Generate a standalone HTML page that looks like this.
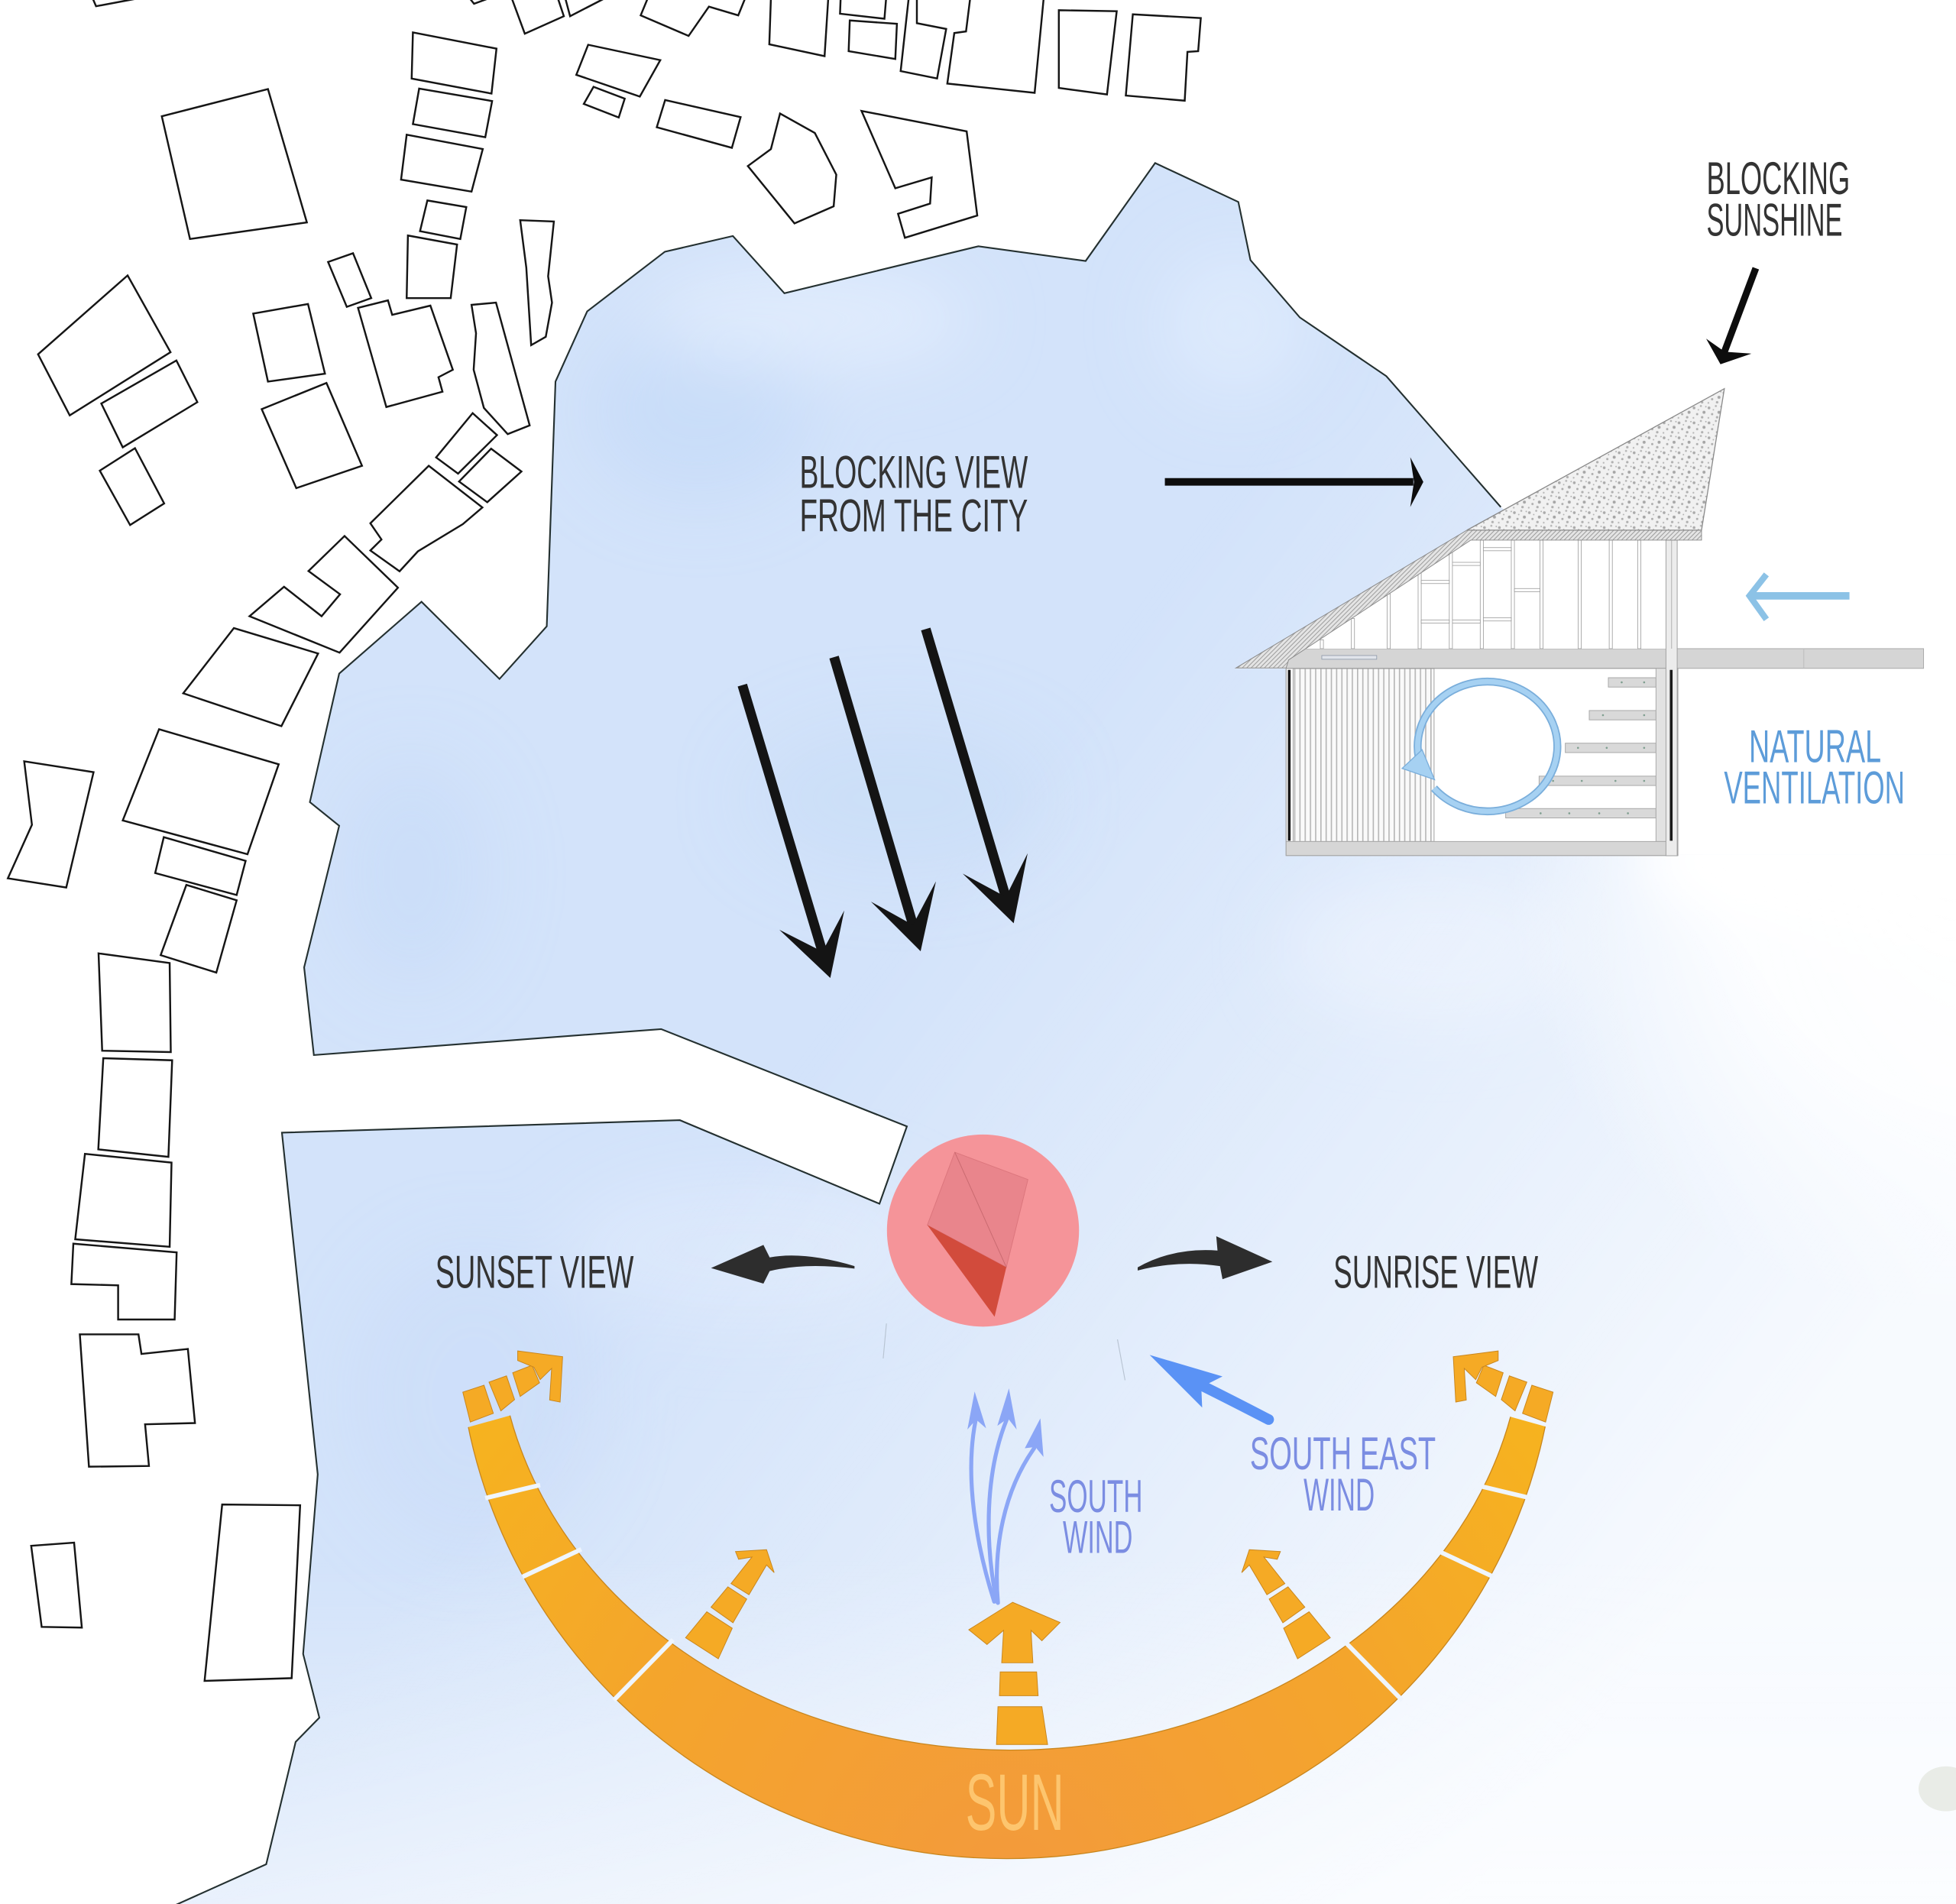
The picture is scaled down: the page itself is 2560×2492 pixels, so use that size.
<!DOCTYPE html>
<html><head><meta charset="utf-8"><style>
html,body{margin:0;padding:0;background:#fff;width:2560px;height:2492px;overflow:hidden}
svg{display:block}
.t{font-family:"Liberation Sans Narrow","Liberation Sans",sans-serif;fill:#333}
.b{fill:#fff;stroke:#151515;stroke-width:1.5;stroke-linejoin:miter}
.o{fill:#f5aa25;stroke:#c9861d;stroke-width:.6}
</style></head><body>
<svg xmlns="http://www.w3.org/2000/svg" width="2560" height="2492" viewBox="0 0 1568 1526.36" preserveAspectRatio="none">
<defs>
<clipPath id="waterClip"><path d="M134.4,1530 L213.4,1494.5 L237,1396.4 L256,1377 L243,1325.9 L254.7,1182 L226,908 L545,898 L705,965 L727,903 L530,825 L251.6,845.8 L243.8,775.5 L271.9,662 L248.4,643 L271.9,540 L337.9,482.4 L400.4,544.3 L438.3,502.1 L445.3,305.9 L470.7,249.6 L533,201.8 L587.5,189.2 L628.8,235.1 L784.3,197.4 L870.3,209.2 L926,130.7 L992.7,161.9 L1002.4,208.5 L1042,254.5 L1111.3,301.5 L1203.1,406.5 L1210,412 L990,536 L1031,536 L1031,685 L1568,685 L1568,1530 Z"/></clipPath>
<linearGradient id="fadeDiag" gradientUnits="userSpaceOnUse" x1="900" y1="500" x2="1568" y2="1000">
<stop offset="0" stop-color="#fff" stop-opacity="0"/><stop offset="1" stop-color="#fff" stop-opacity=".82"/></linearGradient>
<linearGradient id="fadeBottom" gradientUnits="userSpaceOnUse" x1="0" y1="1250" x2="0" y2="1526">
<stop offset="0" stop-color="#fff" stop-opacity="0"/><stop offset="1" stop-color="#fff" stop-opacity=".5"/></linearGradient>
<radialGradient id="fadeRight" gradientUnits="userSpaceOnUse" cx="1568" cy="690" r="360">
<stop offset="0" stop-color="#fff" stop-opacity="1"/><stop offset=".5" stop-color="#fff" stop-opacity=".85"/><stop offset="1" stop-color="#fff" stop-opacity="0"/></radialGradient>
<radialGradient id="sunGrad" gradientUnits="userSpaceOnUse" cx="808" cy="1510" r="650">
<stop offset="0" stop-color="#f39a3c"/><stop offset=".5" stop-color="#f4a52c"/><stop offset="1" stop-color="#f7b81a"/></radialGradient>
<filter id="blur" x="-50%" y="-50%" width="200%" height="200%"><feGaussianBlur stdDeviation="28"/></filter>
<filter id="blur2" x="-50%" y="-50%" width="200%" height="200%"><feGaussianBlur stdDeviation="22"/></filter>
<pattern id="speck" width="12" height="12" patternUnits="userSpaceOnUse">
<rect width="12" height="12" fill="#f1f1f1"/><circle cx="2" cy="3" r="1.1" fill="#aaa"/><circle cx="7.5" cy="1.5" r=".8" fill="#b4b4b4"/><circle cx="10" cy="6.5" r="1.2" fill="#a6a6a6"/><circle cx="4.5" cy="8" r=".9" fill="#adadad"/><circle cx="8.5" cy="10.5" r="1" fill="#b0b0b0"/><circle cx="1.5" cy="11" r=".7" fill="#b8b8b8"/><circle cx="11.5" cy="2" r=".6" fill="#b0b0b0"/><circle cx="5.5" cy="4.5" r=".6" fill="#b3b3b3"/></pattern>
<pattern id="hatch" width="2.5" height="2.5" patternUnits="userSpaceOnUse" patternTransform="rotate(45)">
<rect width="2.5" height="2.5" fill="#e4e4e4"/><rect width=".6" height="2.5" fill="#9a9a9a"/></pattern>
<pattern id="corr" width="4.2" height="10" patternUnits="userSpaceOnUse">
<rect width="4.2" height="10" fill="#fafafa"/><rect width="1" height="10" fill="#b6b6b6"/></pattern>
<mask id="bandMask" maskUnits="userSpaceOnUse" x="0" y="0" width="1568" height="1527">
<ellipse cx="807" cy="1060" rx="440" ry="430" fill="#fff"/>
<ellipse cx="810" cy="1060" rx="411" ry="343" fill="#000"/></mask>
<clipPath id="bandClip"><polygon points="440,1126 340,1154 300,1530 1320,1530 1276,1154 1176,1126"/></clipPath>
</defs>

<rect width="1568" height="1527" fill="#fff"/>

<!-- water -->
<g clip-path="url(#waterClip)">
<rect width="1568" height="1527" fill="#d3e3fa"/>
<g filter="url(#blur)">
<ellipse cx="560" cy="330" rx="90" ry="70" fill="#c3d8f8" opacity=".6"/>
<ellipse cx="330" cy="700" rx="60" ry="90" fill="#c6dbf8" opacity=".6"/>
<ellipse cx="720" cy="640" rx="120" ry="60" fill="#c6dbf8" opacity=".5"/>
<ellipse cx="650" cy="255" rx="130" ry="40" fill="#e6f0fd" opacity=".7"/>
<ellipse cx="990" cy="260" rx="60" ry="60" fill="#e3eefd" opacity=".6"/>
<ellipse cx="380" cy="1120" rx="100" ry="120" fill="#c9dcf9" opacity=".5"/>
<ellipse cx="600" cy="1000" rx="150" ry="60" fill="#e4eefd" opacity=".5"/>
<ellipse cx="1150" cy="760" rx="120" ry="60" fill="#e8f0fd" opacity=".6"/>
</g>
<rect width="1568" height="1527" fill="url(#fadeDiag)"/>
<rect width="1568" height="1527" fill="url(#fadeBottom)"/>
<rect width="1568" height="1527" fill="url(#fadeRight)"/>
<ellipse cx="1490" cy="690" rx="170" ry="55" fill="#fff" filter="url(#blur2)"/>
<ellipse cx="1400" cy="680" rx="60" ry="25" fill="#fff" filter="url(#blur2)" opacity=".8"/>
</g>

<!-- shoreline -->
<path d="M134.4,1530 L213.4,1494.5 L237,1396.4 L256,1377 L243,1325.9 L254.7,1182 L226,908 L545,898 L705,965 L727,903 L530,825 L251.6,845.8 L243.8,775.5 L271.9,662 L248.4,643 L271.9,540 L337.9,482.4 L400.4,544.3 L438.3,502.1 L445.3,305.9 L470.7,249.6 L533,201.8 L587.5,189.2 L628.8,235.1 L784.3,197.4 L870.3,209.2 L926,130.7 L992.7,161.9 L1002.4,208.5 L1042,254.5 L1111.3,301.5 L1203.1,406.5" fill="none" stroke="#243030" stroke-width="1.3" stroke-linejoin="miter"/>

<!-- buildings -->
<g>
<polygon class="b" points="74,-2 77,5 109,-1"/>
<polygon class="b" points="376,-2 380,3 391,-1"/>
<polygon class="b" points="410,-2 420.7,27 452,13 447,-2"/>
<polygon class="b" points="453,-2 457,13 486,-2"/>
<polygon class="b" points="519.5,-2 513.6,12.3 552,28.8 568.3,5.3 591.8,12.3 597.6,-2"/>
<polygon class="b" points="618,-2 616.7,35.5 661,45 664,-2"/>
<polygon class="b" points="673.9,-2 673.4,11 709,15 710.4,-2"/>
<polygon class="b" points="681.2,16.4 719,19.1 717.7,47.3 680.3,41"/>
<polygon class="b" points="722,57 726.3,17.8 728.5,-2 735,-2 735,18.6 758.5,23.2 751.2,62.9"/>
<polygon class="b" points="777.8,-2 836.7,-2 829.4,74.4 759.4,67 765,26.5 774.4,25.2"/>
<polygon class="b" points="848.8,8.2 895.2,9 887.4,75.7 848.8,70.5"/>
<polygon class="b" points="908.1,11.5 962.6,14.5 960.5,41 951.9,41.6 949.7,80.7 902.5,76.6"/>
<polygon class="b" points="462,60 471.5,35.9 529.3,48.2 512.9,77.4"/>
<polygon class="b" points="468,83.3 475.8,69.6 500.8,79.1 496,94.2"/>
<polygon class="b" points="526.5,102 533.2,80.2 593.7,93.9 586.7,118.5"/>
<polygon class="b" points="625.3,91 653.2,106.6 670.4,140 668.3,165.4 636.9,179.1 599.5,133.1 618,119.5"/>
<polygon class="b" points="690.6,88.9 774.9,105.3 783.4,172.8 725.4,190.6 719.9,171.4 745.6,163.2 746.9,142.2 717.7,150.9"/>
<polygon class="b" points="129.7,93.2 214.8,71.4 246,178.3 152.3,191.6"/>
<polygon class="b" points="331,26 398,39 394,75 330,63"/>
<polygon class="b" points="336,71 394.5,81 389,110 331,99.5"/>
<polygon class="b" points="326,108 387,119.5 378,153.6 321.5,144"/>
<polygon class="b" points="342.6,160.7 373.8,166 369,191.6 336.7,185.3"/>
<polygon class="b" points="327,188.8 366.4,196 361.3,239 326,239"/>
<polygon class="b" points="417,176.5 444,177.6 439.4,221.5 442.5,242.6 437.5,270 425.8,276.7 421.9,214.5"/>
<polygon class="b" points="263,210 283,203 297.6,239 278,246"/>
<polygon class="b" points="287,246.8 311,240.8 314.4,252.4 345,245 363,296.4 351.5,302.4 354.7,314 309.7,326.3"/>
<polygon class="b" points="203,251.4 246.9,243.7 260.5,299.6 214.8,305.9"/>
<polygon class="b" points="378,244.4 397.6,242.6 424.6,341 407,348 387.9,327 379.7,296.4 381.6,267.2"/>
<polygon class="b" points="30.5,284 102.3,220.8 136.7,282.3 55.9,333"/>
<polygon class="b" points="81.2,323.5 141.4,289 158.2,322.4 98.4,358.6"/>
<polygon class="b" points="80,377.3 108.2,359.3 131.6,403.6 104.3,420.9"/>
<polygon class="b" points="209.8,328 261.7,307 290.2,373.4 237.5,391.3"/>
<polygon class="b" points="349.6,366.7 378.9,331.2 398.4,348.8 367.2,379.7"/>
<polygon class="b" points="368,386 393.7,359.7 418,378 390.6,402.6"/>
<polygon class="b" points="296.9,419.5 343.7,373.4 386.7,406.8 371,420.2 335,442 320.3,458 296.9,441.3 305.8,432.5"/>
<polygon class="b" points="200,494 227.7,470.4 257.8,494 272.6,476.4 247.3,457.8 276.2,429.7 319,471.1 272.2,523.2"/>
<polygon class="b" points="187.5,503.5 255,523.9 225.6,582.1 146.9,555.8"/>
<polygon class="b" points="127.5,584.6 223.4,612.7 198.4,684.8 98.4,657.7"/>
<polygon class="b" points="131.3,671.1 196.9,690.1 189.7,717.5 124.4,699.9"/>
<polygon class="b" points="149.4,709.4 189.7,721.7 173.4,779.7 128.8,765.7"/>
<polygon class="b" points="19.4,610.3 75,619 53.1,711.5 6.3,704.1 25.6,661.2"/>
<polygon class="b" points="79,764.3 136,772 136.9,843.4 81.9,842.3"/>
<polygon class="b" points="82.8,848.3 138,850 135,927.4 78.8,921.4"/>
<polygon class="b" points="68.1,925 137.5,932 136,999.5 60.3,993.5"/>
<polygon class="b" points="58.8,997 141.6,1004 140,1057.8 94.7,1057.8 94.7,1030.4 57.2,1029.4"/>
<polygon class="b" points="64,1069.7 111,1069.7 113.4,1085.4 150.6,1081.4 156.3,1140.8 116.3,1141.8 119.4,1175.2 71.3,1175.8"/>
<polygon class="b" points="25,1239.2 59.4,1236.7 65.6,1304.8 33.4,1304.2"/>
<polygon class="b" points="178.1,1206.1 240.6,1206.7 233.8,1345.3 164,1347.5"/>
</g>

<!-- house -->
<g>
<rect x="1031" y="520" width="511" height="15.8" fill="#d5d5d5" stroke="#a9a9a9" stroke-width=".6"/>
<line x1="1446" y1="520" x2="1446" y2="535.8" stroke="#bbb" stroke-width=".6"/>
<polygon points="1033,529 1179,433 1340,433 1340,520 1033,520" fill="#fff"/>
<g fill="#fff" stroke="#9c9c9c" stroke-width=".5">
<rect x="1058.4" y="512.9" width="2.5" height="7.1"/>
<rect x="1083.3" y="495.8" width="2.5" height="24.2"/>
<rect x="1112" y="476.1" width="2.5" height="43.9"/>
<rect x="1136.8" y="459" width="2.5" height="61"/>
<rect x="1161.8" y="441.9" width="2.5" height="78.1"/>
<rect x="1186.6" y="433" width="2.5" height="87"/>
<rect x="1211.5" y="433" width="2.5" height="87"/>
<rect x="1234.5" y="433" width="2.5" height="87"/>
<rect x="1265.1" y="433" width="2.5" height="87"/>
<rect x="1290" y="433" width="2.5" height="87"/>
<rect x="1312.9" y="433" width="2.5" height="87"/>
<rect x="1139.3" y="465.3" width="22.5" height="2.5"/>
<rect x="1139.3" y="497" width="22.5" height="2.5"/>
<rect x="1164.3" y="450.8" width="22.3" height="2.5"/>
<rect x="1164.3" y="497" width="22.3" height="2.5"/>
<rect x="1189.1" y="439" width="22.4" height="2.5"/>
<rect x="1189.1" y="495.3" width="22.4" height="2.5"/>
<rect x="1214" y="471.8" width="20.5" height="2.5"/>
</g>
<rect x="1031" y="535.8" width="314" height="150" fill="#fff" stroke="#a5a5a5" stroke-width=".8"/>
<rect x="1036.6" y="536" width="113" height="138.6" fill="url(#corr)" stroke="#a0a0a0" stroke-width=".6"/>
<rect x="1059.6" y="525.5" width="44" height="3" fill="#e0e4ea" stroke="#8c98a8" stroke-width=".5"/>
<g fill="#d9d9d9" stroke="#a8a8a8" stroke-width=".6">
<rect x="1289.3" y="543.3" width="38.2" height="7.5"/>
<rect x="1274" y="569.6" width="53.5" height="7.5"/>
<rect x="1254.8" y="595.8" width="72.7" height="7.5"/>
<rect x="1233.8" y="622.2" width="93.7" height="7.5"/>
<rect x="1207" y="648.2" width="120.5" height="7.5"/>
</g>
<g fill="#7f9f90">
<circle cx="1300" cy="547" r=".8"/><circle cx="1318" cy="547" r=".8"/>
<circle cx="1285" cy="573.3" r=".8"/><circle cx="1318" cy="573.3" r=".8"/>
<circle cx="1265" cy="599.5" r=".8"/><circle cx="1288" cy="599.5" r=".8"/><circle cx="1318" cy="599.5" r=".8"/>
<circle cx="1245" cy="626" r=".8"/><circle cx="1268" cy="626" r=".8"/><circle cx="1295" cy="626" r=".8"/><circle cx="1318" cy="626" r=".8"/>
<circle cx="1235" cy="652" r=".8"/><circle cx="1258" cy="652" r=".8"/><circle cx="1282" cy="652" r=".8"/><circle cx="1305" cy="652" r=".8"/>
</g>
<rect x="1327.5" y="535.8" width="9.5" height="138.8" fill="#e2e2e2" stroke="#a8a8a8" stroke-width=".6"/>
<rect x="1031" y="674.6" width="314" height="11.2" fill="#d6d6d6" stroke="#a5a5a5" stroke-width=".6"/>
<rect x="1335.5" y="433" width="9" height="253" fill="#ececec" stroke="#a0a0a0" stroke-width=".6"/>
<line x1="1340" y1="433" x2="1340" y2="520" stroke="#b0b0b0" stroke-width=".6"/>
<line x1="1033.5" y1="537" x2="1033.5" y2="674" stroke="#1a1a1a" stroke-width="2.2"/>
<line x1="1339.7" y1="537" x2="1339.7" y2="674" stroke="#1a1a1a" stroke-width="2.2"/>
<polygon points="990.7,535.5 1176,425 1364,425 1364,433 1179,433 1033,529 1031,535.5" fill="url(#hatch)" stroke="#8a8a8a" stroke-width=".6"/>
<polygon points="1176,425 1382.3,311.6 1364,425" fill="url(#speck)" stroke="#8a8a8a" stroke-width=".8"/>
</g>

<!-- ventilation circle arrow -->
<path d="M1137.3,607.5 A56 52 0 1 1 1149.6,631.9" fill="none" stroke="#7aaedb" stroke-width="6.4"/>
<path d="M1137.3,607.5 A56 52 0 1 1 1149.6,631.9" fill="none" stroke="#a6d1f2" stroke-width="4.2"/>
<polygon points="1124,616 1140,601 1150,625" fill="#a6d1f2" stroke="#7aaedb" stroke-width=".8"/>
<!-- wind arrow into house -->
<line x1="1405" y1="477.7" x2="1482.6" y2="477.7" stroke="#8cc2e6" stroke-width="6"/>
<polyline points="1416,460.5 1402.5,477.7 1416,496.5" fill="none" stroke="#8cc2e6" stroke-width="5"/>

<!-- black arrows -->
<line x1="933.8" y1="386.3" x2="1133" y2="386.3" stroke="#0d0d0d" stroke-width="6"/>
<polygon points="1130.5,366.5 1141,386.3 1130.5,406.5 1133.5,386.3" fill="#0d0d0d"/>
<line x1="1407.5" y1="215" x2="1382" y2="283" stroke="#0d0d0d" stroke-width="5.5"/>
<polygon points="1367.7,271.5 1382.6,282 1404,283.5 1379.2,292" fill="#0d0d0d"/>

<g fill="#141414">
<line x1="595.1" y1="549.2" x2="660.4" y2="766.8" stroke="#141414" stroke-width="7.8"/>
<polygon points="624.7,745.3 659.3,762.9 676.8,729.9 665.6,784"/>
<line x1="668.6" y1="526.8" x2="733" y2="745.3" stroke="#141414" stroke-width="7.8"/>
<polygon points="698.2,722.8 731.8,741.5 750.3,706.5 738,762.6"/>
<line x1="742.1" y1="504.3" x2="807.4" y2="722.9" stroke="#141414" stroke-width="7.8"/>
<polygon points="771.7,700.3 806.3,719 823.8,684 812.6,740.1"/>
</g>

<!-- view arrows -->
<path d="M685,1015 Q645,1003 617,1008 L612,998 L570,1016.5 L612,1029 L617,1019 Q645,1012 685,1017 Z" fill="#2d2d2d"/>
<path d="M912,1016 Q940,1000 976,1002.5 L975,991 L1020,1011.5 L980,1025.5 L978,1015 Q945,1010 912,1018.5 Z" fill="#2d2d2d"/>

<!-- faint lines -->
<line x1="710.6" y1="1061" x2="708" y2="1089" stroke="#b8c4d2" stroke-width=".7"/>
<line x1="895.8" y1="1073.7" x2="901.9" y2="1106.5" stroke="#b8c4d2" stroke-width=".7"/>

<!-- center circle -->
<circle cx="788" cy="986.5" r="77" fill="#f59499"/>
<polygon points="765.4,923.7 824,945.6 806.7,1015.9 743.4,982.1" fill="#e9858c" stroke="#dc767d" stroke-width=".6"/>
<line x1="765.4" y1="923.7" x2="806.7" y2="1015.9" stroke="#c96a70" stroke-width=".6"/>
<polygon points="743.4,982.1 806.7,1015.9 797.3,1055.6" fill="#d24b3c"/>

<!-- SE wind -->
<path d="M964,1111 Q992,1125 1017,1138" fill="none" stroke="#5a92f5" stroke-width="8.5" stroke-linecap="round"/>
<polygon points="921.6,1086.2 980,1103.4 963,1112 963.7,1128.4" fill="#5a92f5"/>

<!-- south wind -->
<g fill="none" stroke="#8ba6f6" stroke-width="3.2" stroke-linecap="round">
<path d="M797,1284 C783,1240 773,1185 782,1139"/>
<path d="M799,1284 C789,1235 790,1180 807,1138"/>
<path d="M800,1285 C796,1240 805,1195 829,1161"/>
</g>
<g fill="#8ba6f6">
<polygon points="781.3,1115.5 790.5,1145 782.5,1138 775.5,1146"/>
<polygon points="808.8,1113 815,1146 808,1137 799.5,1143"/>
<polygon points="834,1137 836.5,1168 830,1160 821.5,1161"/>
</g>

<!-- sun band -->
<g clip-path="url(#bandClip)">
<g mask="url(#bandMask)"><rect x="300" y="1080" width="1030" height="460" fill="url(#sunGrad)"/></g>
<ellipse cx="807" cy="1060" rx="440" ry="430" fill="none" stroke="#c9861d" stroke-width=".8"/>
<ellipse cx="810" cy="1060" rx="411" ry="343" fill="none" stroke="#c9861d" stroke-width=".8"/>
</g>
<g stroke="#eff5fd" stroke-width="3.6">
<line x1="389" y1="1201" x2="433" y2="1190.5"/>
<line x1="419" y1="1264" x2="466" y2="1242"/>
<line x1="492" y1="1363" x2="539.5" y2="1314.5"/>
<line x1="1124" y1="1363" x2="1076.5" y2="1314.5"/>
<line x1="1197" y1="1264" x2="1150" y2="1242"/>
<line x1="1227" y1="1201" x2="1183" y2="1190.5"/>
</g>
<g>
<polygon class="o" points="371,1116 388,1110.5 395.5,1133 377,1140"/>
<polygon class="o" points="392,1108 406,1103 412.5,1122 401.5,1131"/>
<polygon class="o" points="411,1100.5 426.5,1094.5 432.5,1108.5 417,1119.5"/>
<polygon class="o" points="415,1083 451,1087.6 449,1124 440.6,1122.3 442.2,1097 433,1106 428,1096 415,1090.7"/>
<polygon class="o" points="1245,1116 1228,1110.5 1220.5,1133 1239,1140"/>
<polygon class="o" points="1224,1108 1210,1103 1203.5,1122 1214.5,1131"/>
<polygon class="o" points="1205,1100.5 1189.5,1094.5 1183.5,1108.5 1199,1119.5"/>
<polygon class="o" points="1201,1083 1165,1087.6 1167,1124 1175.4,1122.3 1173.8,1097 1183,1106 1188,1096 1201,1090.7"/>
<!-- left inner arrow -->
<polygon class="o" points="549.6,1312.9 566.6,1292.1 587,1305.3 575.8,1329.8"/>
<polygon class="o" points="570,1288.4 583.5,1272.1 598.6,1281.9 587.6,1300.9"/>
<polygon class="o" points="614.5,1242.3 620.6,1260.7 614.5,1254.6 600.4,1278.4 586,1269.5 602.8,1248.2 592.1,1250 589.6,1243.8"/>
<!-- right inner arrow -->
<polygon class="o" points="1066.4,1312.9 1049.4,1292.1 1029,1305.3 1040.2,1329.8"/>
<polygon class="o" points="1046,1288.4 1032.5,1272.1 1017.4,1281.9 1028.4,1300.9"/>
<polygon class="o" points="1001.5,1242.3 995.4,1260.7 1001.5,1254.6 1015.6,1278.4 1030,1269.5 1013.2,1248.2 1023.9,1250 1026.4,1243.8"/>
<!-- center arrow -->
<polygon class="o" points="811.7,1284.5 849.8,1300.7 835.2,1315.3 826.5,1307 828,1333 803,1333 804.5,1307 791.2,1318.3 776.6,1306.5"/>
<polygon class="o" points="801.8,1340.3 831,1340.3 832.2,1359.4 801.2,1359.4"/>
<polygon class="o" points="800,1368.2 835.2,1368.2 839.8,1398.5 798.8,1398.5"/>
</g>

<!-- small cloud -->
<ellipse cx="1560" cy="1434" rx="22" ry="18" fill="#e9ece7"/>

<!-- texts -->
<text class="t" x="641" y="391" font-size="37" textLength="183" lengthAdjust="spacingAndGlyphs">BLOCKING VIEW</text>
<text class="t" x="641" y="426" font-size="37" textLength="183" lengthAdjust="spacingAndGlyphs">FROM THE CITY</text>
<text class="t" x="1368" y="155.5" font-size="37" textLength="115" lengthAdjust="spacingAndGlyphs">BLOCKING</text>
<text class="t" x="1368" y="189" font-size="37" textLength="109" lengthAdjust="spacingAndGlyphs">SUNSHINE</text>
<text class="t" x="349" y="1032.5" font-size="37" textLength="159" lengthAdjust="spacingAndGlyphs">SUNSET VIEW</text>
<text class="t" x="1069" y="1032.5" font-size="37" textLength="164" lengthAdjust="spacingAndGlyphs">SUNRISE VIEW</text>
<text class="t" x="1402" y="611" font-size="37" textLength="106" lengthAdjust="spacingAndGlyphs" style="fill:#5d9cd9">NATURAL</text>
<text class="t" x="1382" y="644" font-size="37" textLength="145" lengthAdjust="spacingAndGlyphs" style="fill:#5d9cd9">VENTILATION</text>
<text class="t" x="841" y="1212" font-size="37" textLength="75" lengthAdjust="spacingAndGlyphs" style="fill:#7b8de2">SOUTH</text>
<text class="t" x="852" y="1245" font-size="37" textLength="56" lengthAdjust="spacingAndGlyphs" style="fill:#7b8de2">WIND</text>
<text class="t" x="1002" y="1178" font-size="37" textLength="149" lengthAdjust="spacingAndGlyphs" style="fill:#7b8de2">SOUTH EAST</text>
<text class="t" x="1045" y="1211" font-size="37" textLength="57" lengthAdjust="spacingAndGlyphs" style="fill:#7b8de2">WIND</text>
<text class="t" x="774" y="1467" font-size="64" textLength="79" lengthAdjust="spacingAndGlyphs" style="fill:#fdc56e">SUN</text>
</svg>
</body></html>
